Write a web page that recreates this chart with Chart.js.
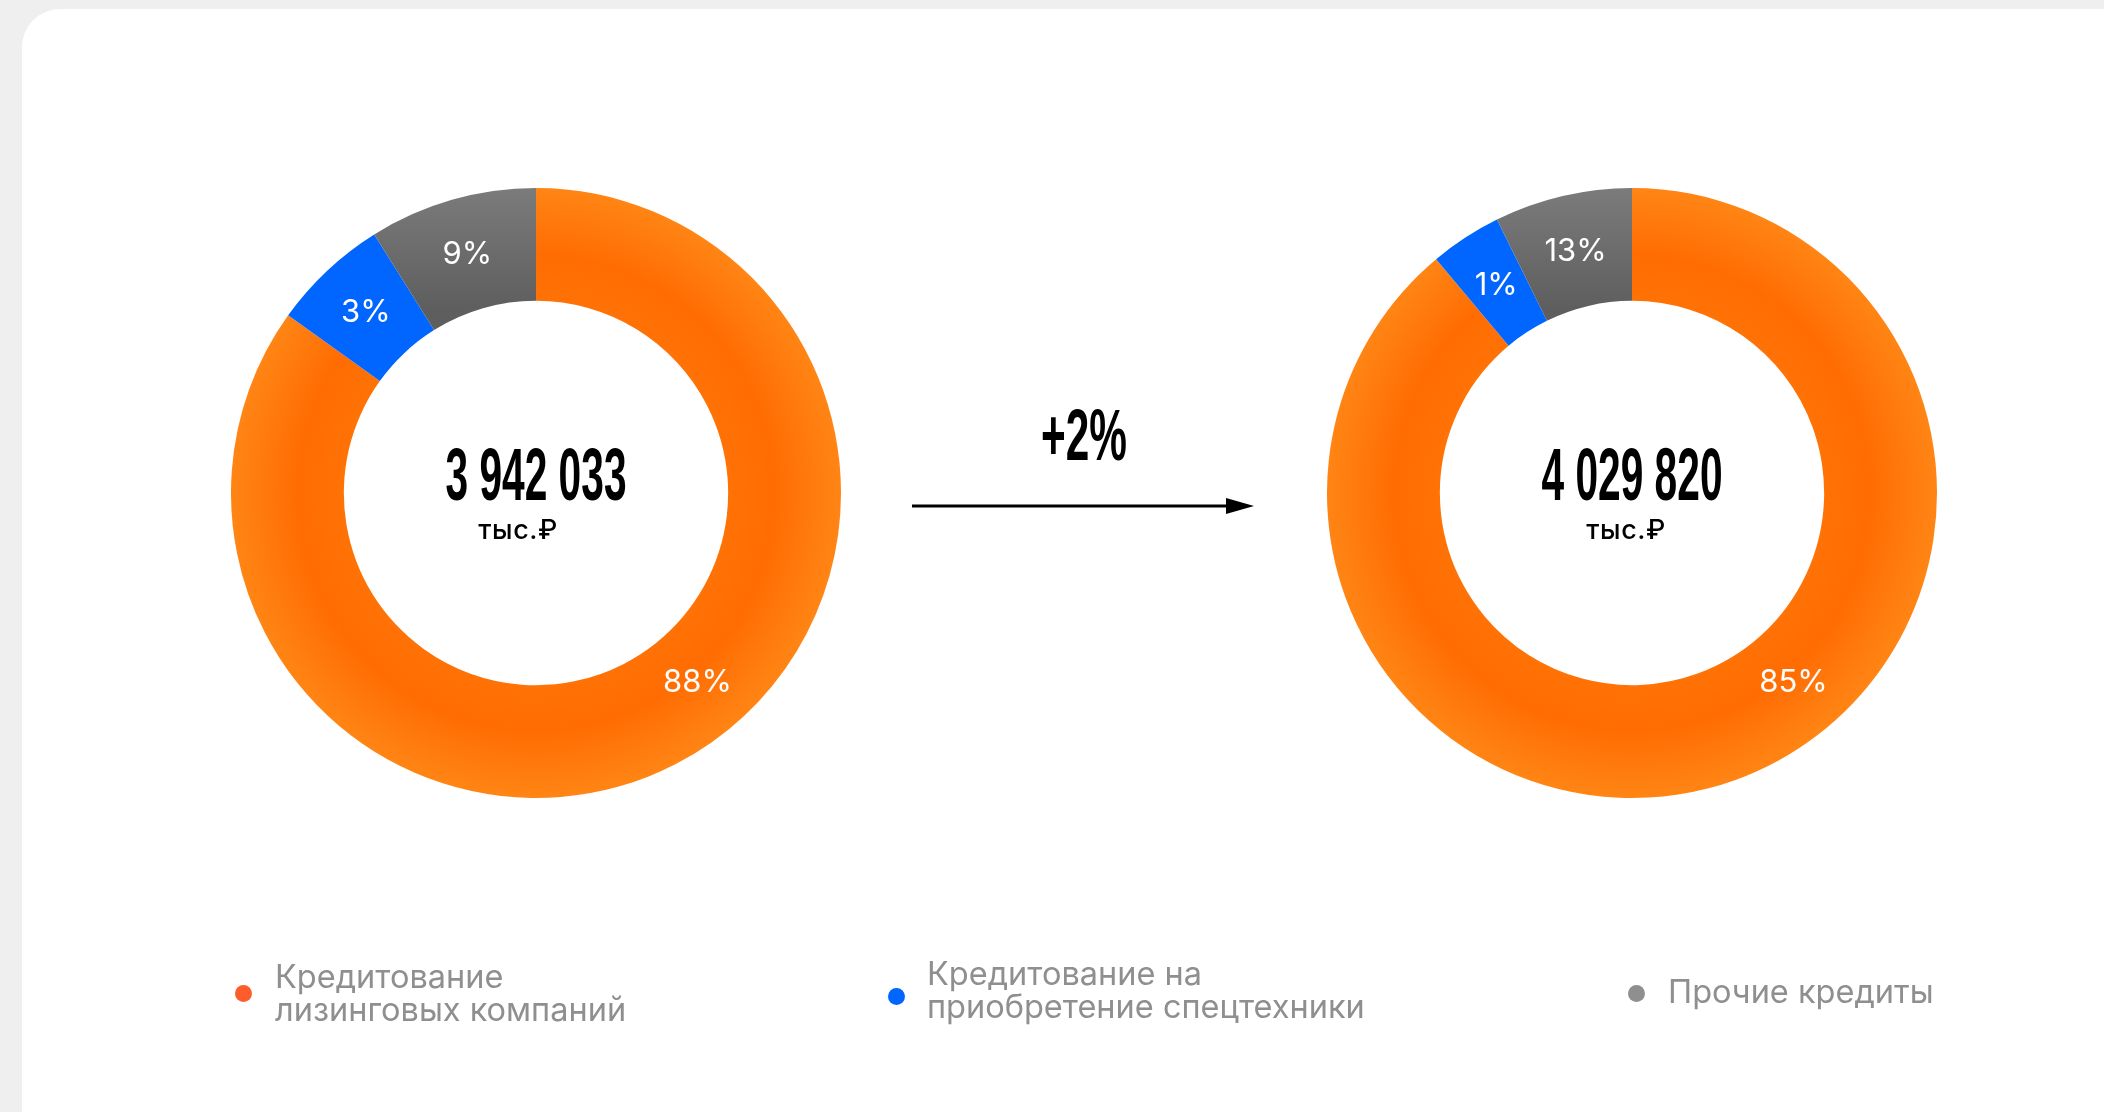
<!DOCTYPE html>
<html lang="ru">
<head>
<meta charset="utf-8">
<script src="https://cdn.jsdelivr.net/npm/chart.js@4.4.1/dist/chart.umd.min.js"></script>
<style>
  html, body { margin: 0; padding: 0; }
  body { width: 2104px; height: 1112px; background: #efefef; position: relative; overflow: hidden; font-family: Inter, "Noto Sans", sans-serif; }
  #card { position: absolute; left: 22px; top: 9px; width: 2200px; height: 1140px; background: #fff; border-radius: 38px; }
  .chartbox { position: absolute; width: 610px; height: 610px; }
  .total { position: absolute; width: 400px; text-align: center; font-family: "Liberation Sans Narrow", "Liberation Sans", sans-serif; font-weight: 700; font-size: 74px; line-height: 74px; color: #000; transform: scaleX(0.55); transform-origin: center; white-space: nowrap; }
  .unit { position: absolute; width: 200px; text-align: center; font-family: Inter, sans-serif; font-weight: 500; font-size: 27px; line-height: 27px; color: #000; letter-spacing: 0.5px; white-space: nowrap; }
  .change { position: absolute; width: 300px; text-align: center; font-family: "Liberation Sans Narrow", "Liberation Sans", sans-serif; font-weight: 700; font-size: 73px; line-height: 73px; color: #000; transform: scaleX(0.58); transform-origin: center; white-space: nowrap; }
  .leg { position: absolute; font-family: Inter, sans-serif; font-size: 32.5px; line-height: 33px; color: #8f8f8f; white-space: nowrap; }
  .dot { position: absolute; width: 17px; height: 17px; border-radius: 50%; }
  svg { position: absolute; left: 0; top: 0; }
</style>
</head>
<body>
<div id="card"></div>

<div class="chartbox" style="left:231px; top:188px;"><canvas id="c1" width="610" height="610"></canvas></div>
<div class="chartbox" style="left:1327px; top:188px;"><canvas id="c2" width="610" height="610"></canvas></div>

<div id="totalStart" class="total" style="left:336px; top:438px;"></div>
<div id="unitStart" class="unit" style="left:418px; top:516px;"></div>
<div id="totalEnd" class="total" style="left:1432px; top:438px;"></div>
<div id="unitEnd" class="unit" style="left:1526px; top:516px;"></div>

<div id="change" class="change" style="left:934px; top:398px;"></div>
<svg width="2104" height="1112">
  <line x1="912" y1="506" x2="1232" y2="506" stroke="#000" stroke-width="3"/>
  <polygon points="1226,498 1254,506 1226,514" fill="#000"/>
</svg>

<div id="legend"></div>

<script>
// ---- data ----
const categories = ['Кредитование лизинговых компаний', 'Кредитование на приобретение спецтехники', 'Прочие кредиты'];
const legendLines = [['Кредитование', 'лизинговых компаний'], ['Кредитование на', 'приобретение спецтехники'], ['Прочие кредиты']];
const sharesStart = [84.9, 6.2, 8.9];   // arc sizes as drawn, left donut
const sharesEnd = [88.9, 3.8, 7.3];     // arc sizes as drawn, right donut
const labelsStart = ['88%', '3%', '9%'];
const labelsEnd = ['85%', '1%', '13%'];
const totals = ['3 942 033', '4 029 820'];
const unitText = 'тыс.₽';
const changeText = '+2%';

// ---- styles ----
const legendColors = ['#ff5c2c', '#0066ff', '#8f8f8f'];

function orangeFill(chart) {
  const a = chart.chartArea;
  if (!a) return '#ff7a0a';
  const cx = (a.left + a.right) / 2, cy = (a.top + a.bottom) / 2;
  const R = Math.min(a.width, a.height) / 2;
  const g = chart.ctx.createRadialGradient(cx, cy, R * 0.63, cx, cy, R);
  g.addColorStop(0, '#ff7206');
  g.addColorStop(0.4, '#ff6c02');
  g.addColorStop(1, '#ff8515');
  return g;
}
function greyFill(chart) {
  const a = chart.chartArea;
  if (!a) return '#686868';
  const cy = (a.top + a.bottom) / 2;
  const R = Math.min(a.width, a.height) / 2;
  const g = chart.ctx.createLinearGradient(0, cy - R, 0, cy - R * 0.6);
  g.addColorStop(0, '#7b7b7b');
  g.addColorStop(1, '#5e5e5e');
  return g;
}
function sliceFill(c) {
  if (c.dataIndex === 0) return orangeFill(c.chart);
  if (c.dataIndex === 1) return '#0066ff';
  return greyFill(c.chart);
}

const sliceLabels = {
  id: 'sliceLabels',
  afterDatasetsDraw(chart, args, opts) {
    const ctx = chart.ctx;
    const meta = chart.getDatasetMeta(0);
    const texts = opts.texts || [];
    const fixed = opts.fixedAngles || [];
    ctx.save();
    ctx.fillStyle = '#ffffff';
    ctx.font = '400 31px Inter, sans-serif';
    ctx.textAlign = 'center';
    ctx.textBaseline = 'middle';
    meta.data.forEach((arc, i) => {
      const p = arc.getProps(['x', 'y', 'startAngle', 'endAngle', 'innerRadius', 'outerRadius'], true);
      const ang = fixed[i] != null ? (fixed[i] - 90) * Math.PI / 180 : (p.startAngle + p.endAngle) / 2;
      const r = (p.innerRadius + p.outerRadius) / 2;
      ctx.fillText(texts[i], p.x + Math.cos(ang) * r, p.y + Math.sin(ang) * r + 1);
    });
    ctx.restore();
  }
};

function makeDonut(id, values, texts) {
  return new Chart(document.getElementById(id), {
    type: 'doughnut',
    data: {
      labels: categories,
      datasets: [{
        data: values,
        backgroundColor: sliceFill,
        borderWidth: 0,
        hoverOffset: 0,
        offset: 0,
        spacing: 0
      }]
    },
    options: {
      responsive: false,
      animation: false,
      events: [],
      cutout: '63%',
      rotation: 0,
      layout: { padding: 0 },
      plugins: {
        legend: { display: false },
        tooltip: { enabled: false },
        sliceLabels: { texts: texts, fixedAngles: [139.5, null, null] }
      }
    },
    plugins: [sliceLabels]
  });
}

makeDonut('c1', sharesStart, labelsStart);
makeDonut('c2', sharesEnd, labelsEnd);

document.getElementById('totalStart').textContent = totals[0];
document.getElementById('totalEnd').textContent = totals[1];
document.getElementById('unitStart').textContent = unitText;
document.getElementById('unitEnd').textContent = unitText;
document.getElementById('change').textContent = changeText;

// legend
const legendPos = [
  { dot: [243, 993], text: [275, 960] },
  { dot: [896, 996], text: [927, 957] },
  { dot: [1636, 993], text: [1668, 975] }
];
const legendEl = document.getElementById('legend');
legendLines.forEach((lines, i) => {
  const d = document.createElement('div');
  d.className = 'dot';
  d.style.background = legendColors[i];
  d.style.left = (legendPos[i].dot[0] - 8.5) + 'px';
  d.style.top = (legendPos[i].dot[1] - 8.5) + 'px';
  legendEl.appendChild(d);
  const t = document.createElement('div');
  t.className = 'leg';
  t.style.left = legendPos[i].text[0] + 'px';
  t.style.top = legendPos[i].text[1] + 'px';
  t.innerHTML = lines.join('<br>');
  legendEl.appendChild(t);
});
</script>
</body>
</html>
